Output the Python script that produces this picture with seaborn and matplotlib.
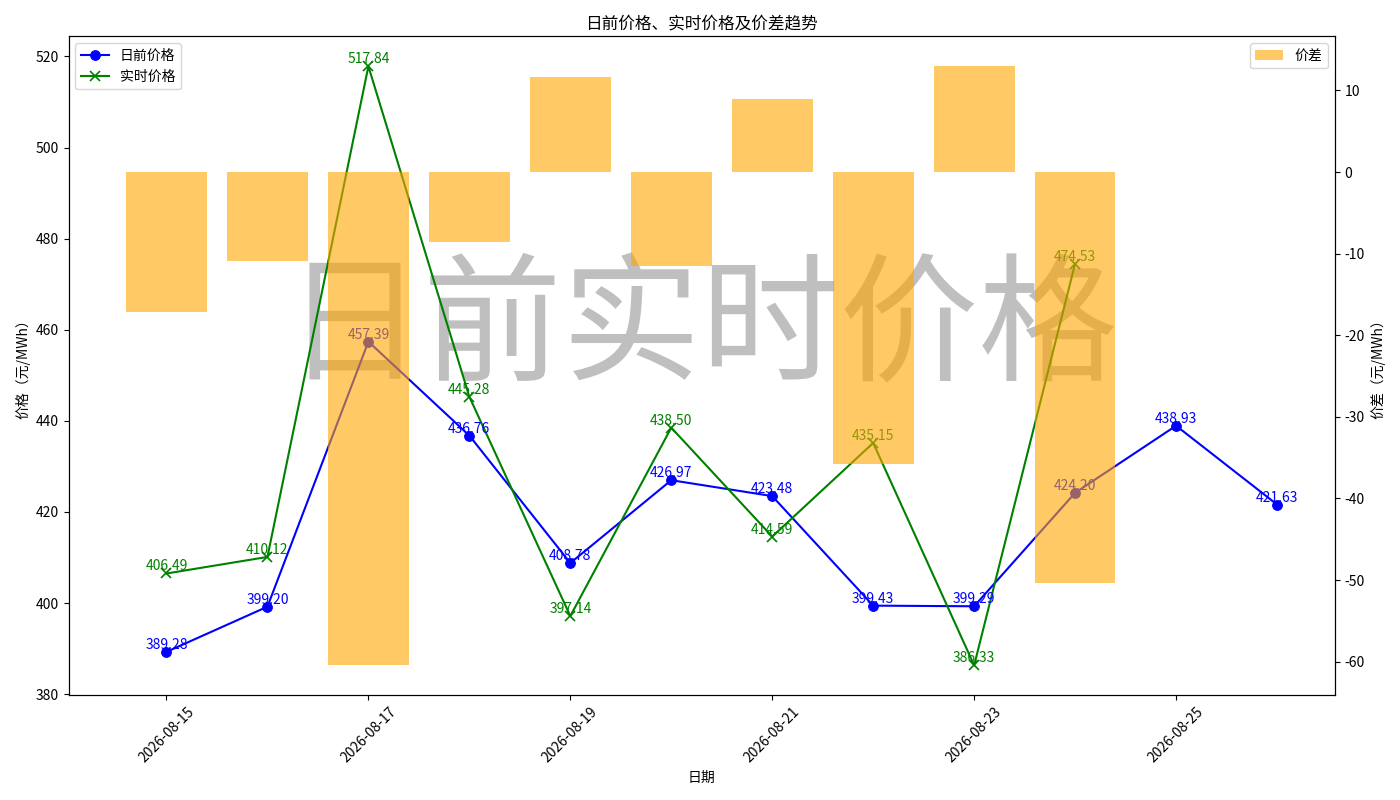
import pandas as pd
import numpy as np
import matplotlib
matplotlib.use('Agg')
import matplotlib.pyplot as plt
import matplotlib.dates as mdates
import seaborn as sns

# data
dates = pd.date_range('2026-08-15', '2026-08-26', freq='D')
day_ahead = [389.28, 399.20, 457.39, 436.76, 408.78, 426.97,
             423.48, 399.43, 399.29, 424.20, 438.93, 421.63]
real_time = [406.49, 410.12, 517.84, 445.28, 397.14, 438.50,
             414.59, 435.15, 386.33, 474.53]
spread = [-17.21, -10.92, -60.45, -8.52, 11.64, -11.53,
          8.89, -35.72, 12.96, -50.33]

plt.rcParams['font.family'] = ['Noto Sans CJK SC', 'DejaVu Sans']
plt.rcParams['axes.unicode_minus'] = False

fig, ax1 = plt.subplots(figsize=(14, 8), dpi=100)

rt_dates = dates[:len(real_time)]

sns.lineplot(x=dates, y=day_ahead, ax=ax1, color='blue', marker='o',
             markersize=7, markeredgecolor='blue', label='日前价格')
sns.lineplot(x=rt_dates, y=real_time, ax=ax1, color='green', marker='x',
             markersize=7, markeredgecolor='green', markeredgewidth=1.2,
             label='实时价格')

for d, v in zip(dates, day_ahead):
    ax1.text(d, v, f'{v:.2f}', ha='center', va='bottom', fontsize=10, color='blue')
for d, v in zip(rt_dates, real_time):
    ax1.text(d, v, f'{v:.2f}', ha='center', va='bottom', fontsize=10, color='green')

# watermark
ax1.text(0.5, 0.553, '日前实时价格', transform=ax1.transAxes, fontsize=100,
         color='gray', alpha=0.5, ha='center', va='center', zorder=0)

ax1.set_xlabel('日期')
ax1.set_ylabel('价格（元/MWh）')
ax1.legend(loc='upper left')

ax2 = ax1.twinx()
ax2.bar(dates[:len(spread)], spread, width=0.8, color='orange', alpha=0.6, label='价差')
ax2.set_ylabel('价差（元/MWh）')
ax2.legend(loc='upper right')

ax1.set_xticks(dates[::2])
ax1.xaxis.set_major_formatter(mdates.DateFormatter('%Y-%m-%d'))
plt.setp(ax1.get_xticklabels(), rotation=45)

plt.title('日前价格、实时价格及价差趋势')
plt.tight_layout()
plt.savefig('out.png')
